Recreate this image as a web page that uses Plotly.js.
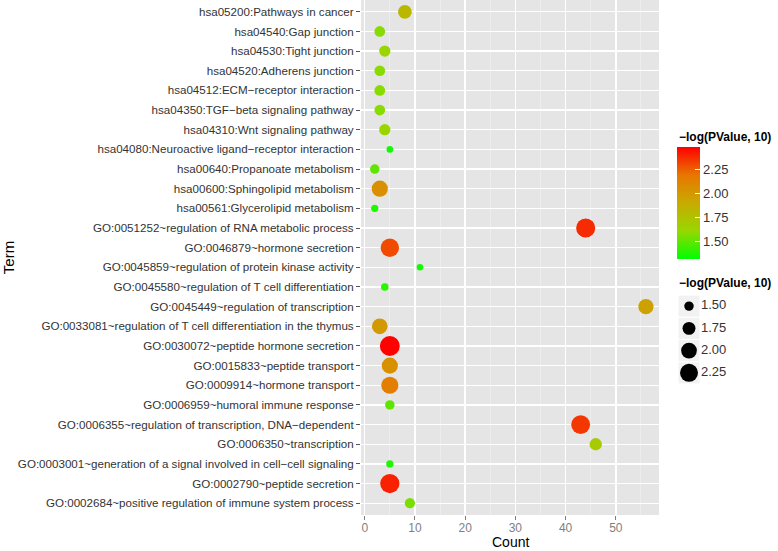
<!DOCTYPE html>
<html>
<head>
<meta charset="utf-8">
<script src="https://cdn.plot.ly/plotly-3.0.1.min.js"></script>
<style>
  body { margin: 0; background: #fff; }
  #chart { width: 778px; height: 551px; }
</style>
</head>
<body>
<div id="chart"></div>
<script>
// Enrichment dot plot: GO terms + KEGG pathways

// top to bottom, as in the figure
const terms = [
    'hsa05200:Pathways in cancer',
    'hsa04540:Gap junction',
    'hsa04530:Tight junction',
    'hsa04520:Adherens junction',
    'hsa04512:ECM\u2212receptor interaction',
    'hsa04350:TGF\u2212beta signaling pathway',
    'hsa04310:Wnt signaling pathway',
    'hsa04080:Neuroactive ligand\u2212receptor interaction',
    'hsa00640:Propanoate metabolism',
    'hsa00600:Sphingolipid metabolism',
    'hsa00561:Glycerolipid metabolism',
    'GO:0051252~regulation of RNA metabolic process',
    'GO:0046879~hormone secretion',
    'GO:0045859~regulation of protein kinase activity',
    'GO:0045580~regulation of T cell differentiation',
    'GO:0045449~regulation of transcription',
    'GO:0033081~regulation of T cell differentiation in the thymus',
    'GO:0030072~peptide hormone secretion',
    'GO:0015833~peptide transport',
    'GO:0009914~hormone transport',
    'GO:0006959~humoral immune response',
    'GO:0006355~regulation of transcription, DNA\u2212dependent',
    'GO:0006350~transcription',
    'GO:0003001~generation of a signal involved in cell\u2212cell signaling',
    'GO:0002790~peptide secretion',
    'GO:0002684~positive regulation of immune system process'
];

const counts = [8, 3, 4, 3, 3, 3, 4, 5, 2, 3, 2, 44, 5, 11, 4, 56, 3, 5, 5, 5, 5, 43, 46, 5, 5, 9];

// -log10(p)
const logP = [1.82, 1.58, 1.62, 1.58, 1.58, 1.58, 1.62, 1.35, 1.50, 2.05, 1.38, 2.38, 2.30, 1.35,
              1.40, 1.95, 2.00, 2.48, 2.05, 2.15, 1.50, 2.35, 1.70, 1.38, 2.40, 1.55];

const sizeBreaks = [1.50, 1.75, 2.00, 2.25];
const colorTicks = [1.50, 1.75, 2.00, 2.25];

// ggplot-ish green -> red gradient (Lab interpolated)
const colorscale = [
    [0, '#00FF00'],
    [0.25, '#98D700'],
    [0.5, '#C8AB00'],
    [0.75, '#E87600'],
    [1, '#FF0000']
];

// area proportional to value
function sizeFor(v) {
    return Math.sqrt(Math.max(30, 90 + 312 * (v - 1.5)));
}

const W = 778, H = 551;
const font = 'Liberation Sans, Arial, Helvetica, sans-serif';

const mainTrace = {
    x: counts,
    y: terms,
    type: 'scatter',
    mode: 'markers',
    hoverinfo: 'x+y',
    marker: {
        size: logP.map(sizeFor),
        color: logP,
        colorscale: colorscale,
        cmin: 1.32,
        cmax: 2.485,
        line: { width: 0 },
        opacity: 1,
        showscale: true,
        colorbar: {
            x: 677 / W,
            xanchor: 'left',
            y: (H - 202.5) / H,
            yanchor: 'middle',
            len: 112,
            lenmode: 'pixels',
            thickness: 23,
            thicknessmode: 'pixels',
            outlinewidth: 0,
            xpad: 0,
            ypad: 0,
            tickvals: colorTicks,
            ticktext: colorTicks.map(v => v.toFixed(2)),
            ticks: 'inside',
            ticklen: 5,
            tickcolor: '#ffffff',
            tickwidth: 1,
            tickfont: { family: font, size: 13, color: '#333333' }
        }
    }
};

// size legend, drawn on its own little axes
const keyBoxes = {
    x: sizeBreaks.map(() => 11),
    y: sizeBreaks.map((_, i) => i),
    xaxis: 'x2', yaxis: 'y2',
    type: 'scatter', mode: 'markers', hoverinfo: 'skip',
    marker: { symbol: 'square', size: 21, color: '#F2F2F2', line: { width: 0 } }
};
const keyDots = {
    x: sizeBreaks.map(() => 11),
    y: sizeBreaks.map((_, i) => i),
    xaxis: 'x2', yaxis: 'y2',
    type: 'scatter', mode: 'markers', hoverinfo: 'skip',
    marker: { size: sizeBreaks.map(sizeFor), color: '#000000', opacity: 1, line: { width: 0 } }
};
const keyText = {
    x: sizeBreaks.map(() => 23),
    y: sizeBreaks.map((_, i) => i),
    xaxis: 'x2', yaxis: 'y2',
    type: 'scatter', mode: 'text', hoverinfo: 'skip',
    text: sizeBreaks.map(v => v.toFixed(2)),
    textposition: 'middle right',
    textfont: { family: font, size: 13, color: '#333333' }
};

const layout = {
    width: W,
    height: H,
    margin: { l: 0, r: 0, t: 0, b: 0 },
    paper_bgcolor: '#ffffff',
    plot_bgcolor: 'rgba(0,0,0,0)',
    showlegend: false,
    font: { family: font, color: '#333333' },
    xaxis: {
        domain: [361 / W, 659 / W],
        range: [-0.74, 58.6],
        tickvals: [0, 10, 20, 30, 40, 50],
        ticks: 'outside',
        ticklen: 4,
        tickcolor: '#7F7F7F',
        ticklabelstandoff: -2,
        tickfont: { family: font, size: 12, color: '#7F7F7F' },
        showgrid: true,
        gridcolor: '#ffffff',
        gridwidth: 1.4,
        minor: { dtick: 5, tick0: 5, showgrid: true, gridcolor: '#F2F2F2', gridwidth: 0.6, ticks: '' },
        zeroline: false,
        showline: false
    },
    yaxis: {
        domain: [(H - 515) / H, 1],
        type: 'category',
        categoryorder: 'array',
        categoryarray: terms,
        range: [terms.length - 0.4, -0.6],
        ticks: 'outside',
        ticklen: 4,
        tickcolor: '#555555',
        tickfont: { family: font, size: 11.6, color: '#333333' },
        showgrid: true,
        gridcolor: '#ffffff',
        gridwidth: 1.4,
        zeroline: false,
        showline: false,
        title: { text: 'Term', font: { family: font, size: 15, color: '#000000' }, standoff: 6 }
    },
    xaxis2: {
        domain: [678 / W, 760 / W],
        range: [0, 82],
        anchor: 'y2',
        visible: false,
        fixedrange: true
    },
    yaxis2: {
        domain: [(H - 384) / H, (H - 295) / H],
        range: [3.5, -0.5],
        anchor: 'x2',
        visible: false,
        fixedrange: true
    },
    // grey panel only behind the main plot
    shapes: [{
        type: 'rect',
        xref: 'x domain', yref: 'y domain',
        x0: 0, x1: 1, y0: 0, y1: 1,
        fillcolor: '#E5E5E5',
        line: { width: 0 },
        layer: 'below'
    }],
    annotations: [
        {
            // x axis title
            text: 'Count',
            xref: 'x domain', yref: 'paper',
            x: 0.5, y: 0,
            xanchor: 'center', yanchor: 'bottom',
            borderpad: 0,
            showarrow: false,
            font: { family: font, size: 14, color: '#000000' }
        },
        {
            text: '<b>\u2212log(PValue, 10)</b>',
            xref: 'paper', yref: 'paper',
            x: 677 / W, y: (H - 137) / H,
            xanchor: 'left', yanchor: 'middle',
            showarrow: false,
            font: { family: font, size: 12, color: '#000000' }
        },
        {
            text: '<b>\u2212log(PValue, 10)</b>',
            xref: 'paper', yref: 'paper',
            x: 677 / W, y: (H - 283) / H,
            xanchor: 'left', yanchor: 'middle',
            showarrow: false,
            font: { family: font, size: 12, color: '#000000' }
        }
    ]
};

Plotly.newPlot('chart', [mainTrace, keyBoxes, keyDots, keyText], layout, { displayModeBar: false, staticPlot: true });
</script>
</body>
</html>
